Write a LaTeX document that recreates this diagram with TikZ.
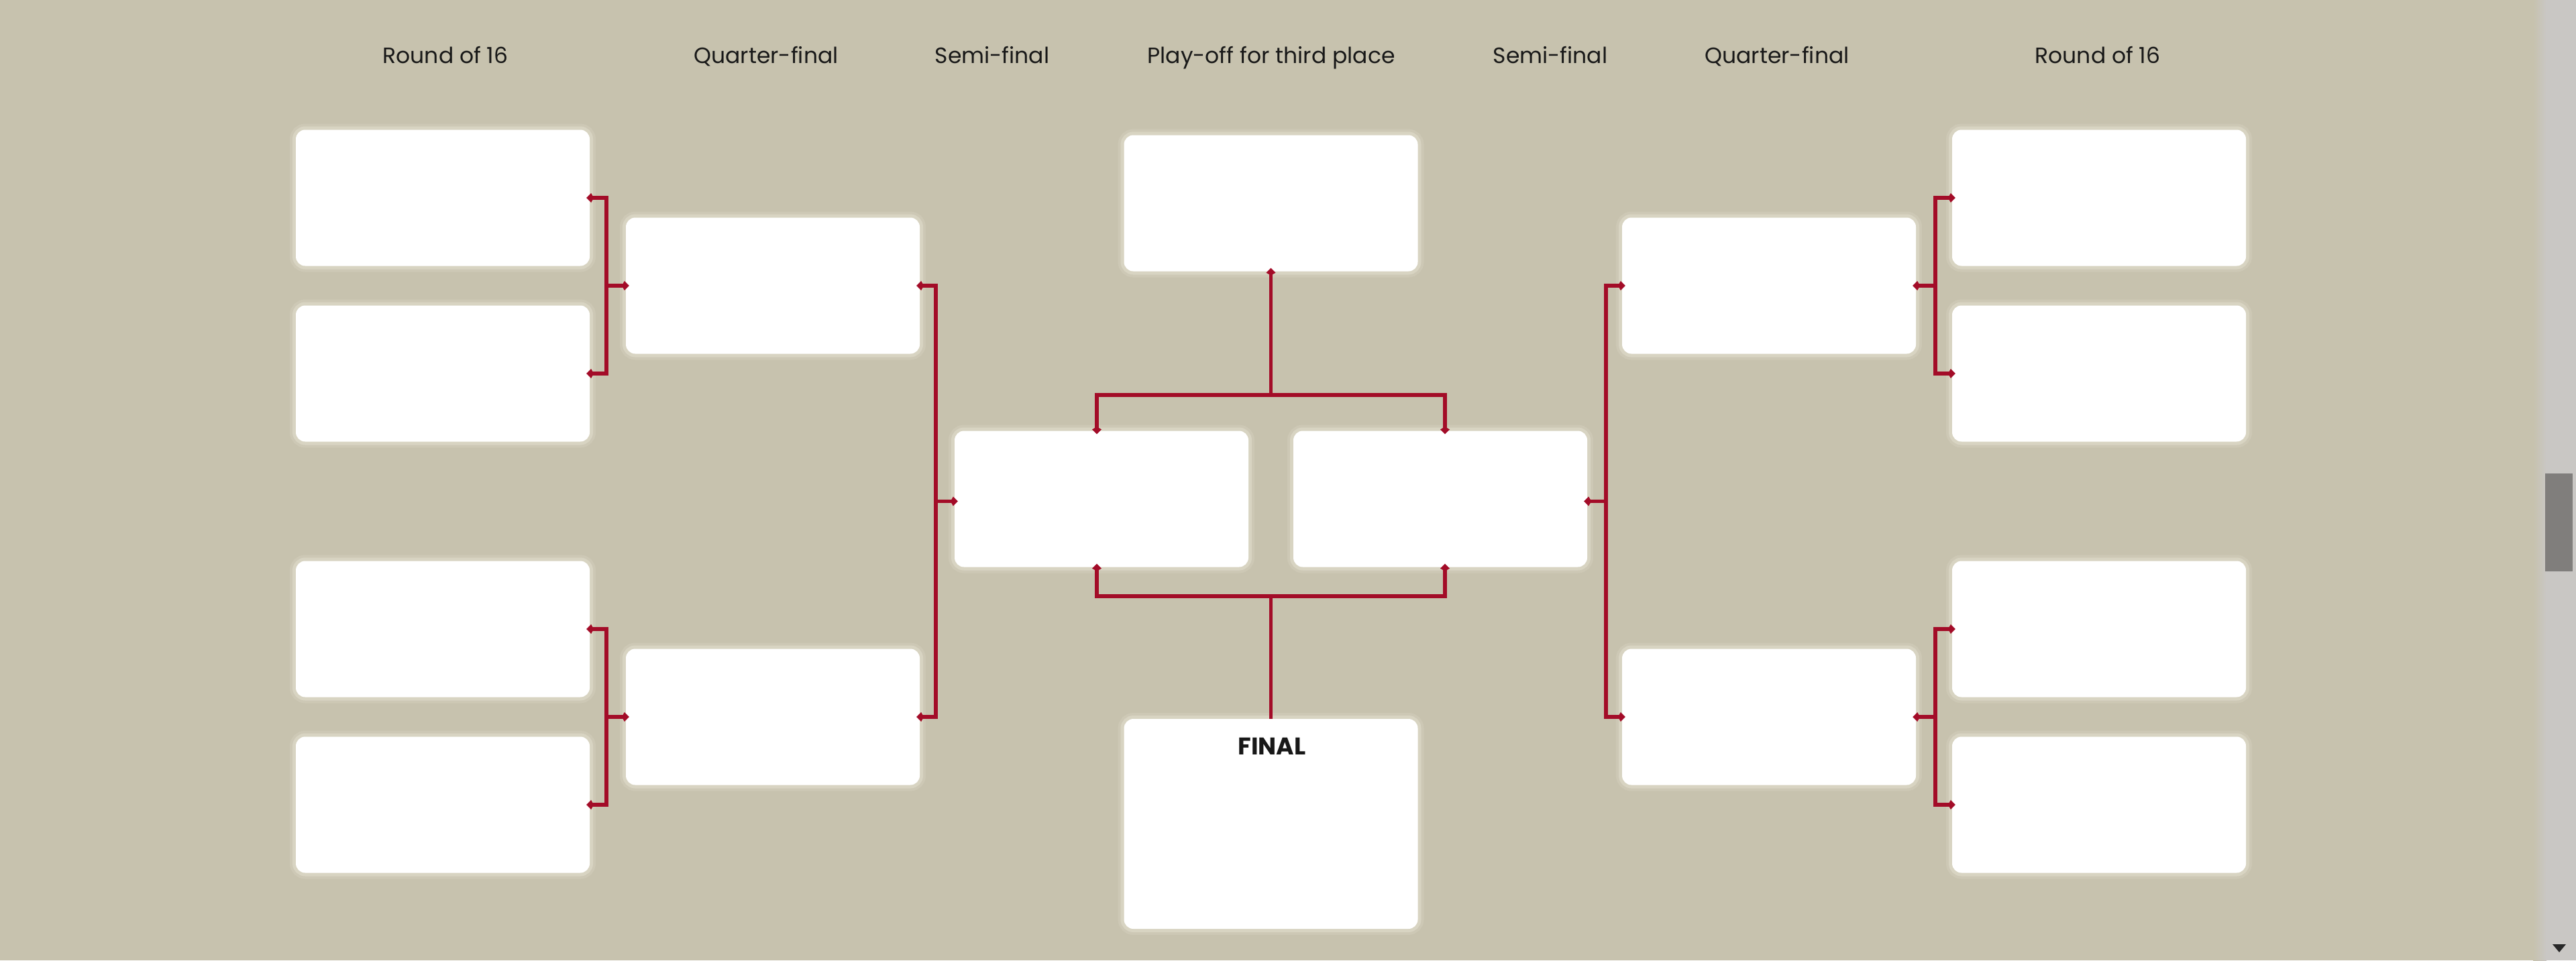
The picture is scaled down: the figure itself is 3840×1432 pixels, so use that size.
\documentclass[tikz,border=0pt]{standalone}
\usepackage{fontspec}
\setmainfont{Poppins}
\usetikzlibrary{arrows.meta,calc}
\definecolor{bg}{RGB}{199,194,174}
\definecolor{wine}{RGB}{163,12,40}
\definecolor{ink}{RGB}{24,24,24}
\definecolor{track}{RGB}{201,199,196}
\definecolor{thumb}{RGB}{128,126,124}
\definecolor{arrowgray}{RGB}{40,40,40}
\definecolor{glow}{RGB}{250,248,236}
\tikzset{
 slot/.style={fill=white, rounded corners=14pt, minimum width=438pt, minimum height=203pt, inner sep=0pt,
   preaction={draw=glow,line width=18pt,opacity=0.12},
   preaction={draw=glow,line width=10pt,opacity=0.25}},
 link/.style={draw=wine, line width=5.5pt, >={Kite[length=11pt,width=14pt,inset=4pt]}},
 head/.style={font=\fontsize{33}{40}\selectfont, text=ink, anchor=base, inner sep=0pt},
 intoboth/.style={<->, shorten <=-5pt, shorten >=-5pt},
 intoend/.style={->, shorten >=-5pt},
 intostart/.style={<-, shorten <=-5pt},
}
\begin{document}
\begin{tikzpicture}[x=1pt,y=-1pt]
\useasboundingbox (0,0) rectangle (3840,1432);
\fill[bg] (0,0) rectangle (3840,1432);
% scrollbar
\shade[left color=bg, right color=track] (3776,0) rectangle (3796,1432);
\fill[track] (3796,0) rectangle (3840,1432);
\fill[thumb] (3794,706) rectangle (3835,852);
\fill[arrowgray] (3805,1408) -- (3825,1408) -- (3815,1420) -- cycle;
% headers
\node[head] (h1) at (664,94) {Round of 16};
\node[head] (h2) at (1142,94) {Quarter-final};
\node[head] (h3) at (1479,94) {Semi-final};
\node[head] (h4) at (1895,94) {Play-off for third place};
\node[head] (h5) at (2311,94) {Semi-final};
\node[head] (h6) at (2649,94) {Quarter-final};
\node[head] (h7) at (3127,94) {Round of 16};
% left boxes
\node[slot] (r1) at (660,295) {};
\node[slot] (r2) at (660,557) {};
\node[slot] (r3) at (660,938) {};
\node[slot] (r4) at (660,1200) {};
\node[slot] (q1) at (1152,426) {};
\node[slot] (q2) at (1152,1069) {};
\node[slot] (s1) at (1642,744) {};
% centre
\node[slot] (third) at (1894.5,303) {};
\node[slot, minimum height=313pt] (final) at (1894.5,1228.5) {};
\node[anchor=base, inner sep=0pt, text=ink, font=\fontsize{36}{40}\selectfont\bfseries] (ftxt) at (1896,1125) {FINAL};
% right boxes
\node[slot] (s2) at (2147,744) {};
\node[slot] (q3) at (2637,426) {};
\node[slot] (q4) at (2637,1069) {};
\node[slot] (r5) at (3129,295) {};
\node[slot] (r6) at (3129,557) {};
\node[slot] (r7) at (3129,938) {};
\node[slot] (r8) at (3129,1200) {};
% left brackets
\draw[link,intoboth] (r1.east) -- ++(25,0) |- (r2.east);
\coordinate (j1) at ($(r1.east)!.5!(r2.east)+(25,0)$);
\draw[link,intoend] (j1) -- (j1 -| q1.west);
\draw[link,intoboth] (r3.east) -- ++(25,0) |- (r4.east);
\coordinate (j2) at ($(r3.east)!.5!(r4.east)+(25,0)$);
\draw[link,intoend] (j2) -- (j2 -| q2.west);
\draw[link,intoboth] (q1.east) -- ++(24,0) |- (q2.east);
\coordinate (j3) at ($(q1.east)!.5!(q2.east)+(24,0)$);
\draw[link,intoend] (j3) -- (j3 -| s1.west);
% right brackets
\draw[link,intoboth] (r5.west) -- ++(-25,0) |- (r6.west);
\coordinate (j4) at ($(r5.west)!.5!(r6.west)+(-25,0)$);
\draw[link,intoend] (j4) -- (j4 -| q3.east);
\draw[link,intoboth] (r7.west) -- ++(-25,0) |- (r8.west);
\coordinate (j5) at ($(r7.west)!.5!(r8.west)+(-25,0)$);
\draw[link,intoend] (j5) -- (j5 -| q4.east);
\draw[link,intoboth] (q3.west) -- ++(-24,0) |- (q4.west);
\coordinate (j6) at ($(q3.west)!.5!(q4.west)+(-24,0)$);
\draw[link,intoend] (j6) -- (j6 -| s2.east);
% centre connectors
\coordinate (tc) at (1894.5,589);
\coordinate (bc) at (1894.5,889);
\draw[link,intoboth] ([xshift=-7pt]s1.north) |- (tc) -| ([xshift=7pt]s2.north);
\draw[link,intostart] (third.south) -- (tc);
\draw[link,intoboth] ([xshift=-7pt]s1.south) |- (bc) -| ([xshift=7pt]s2.south);
\draw[link] (bc) -- (final.north);
\end{tikzpicture}
\end{document}
